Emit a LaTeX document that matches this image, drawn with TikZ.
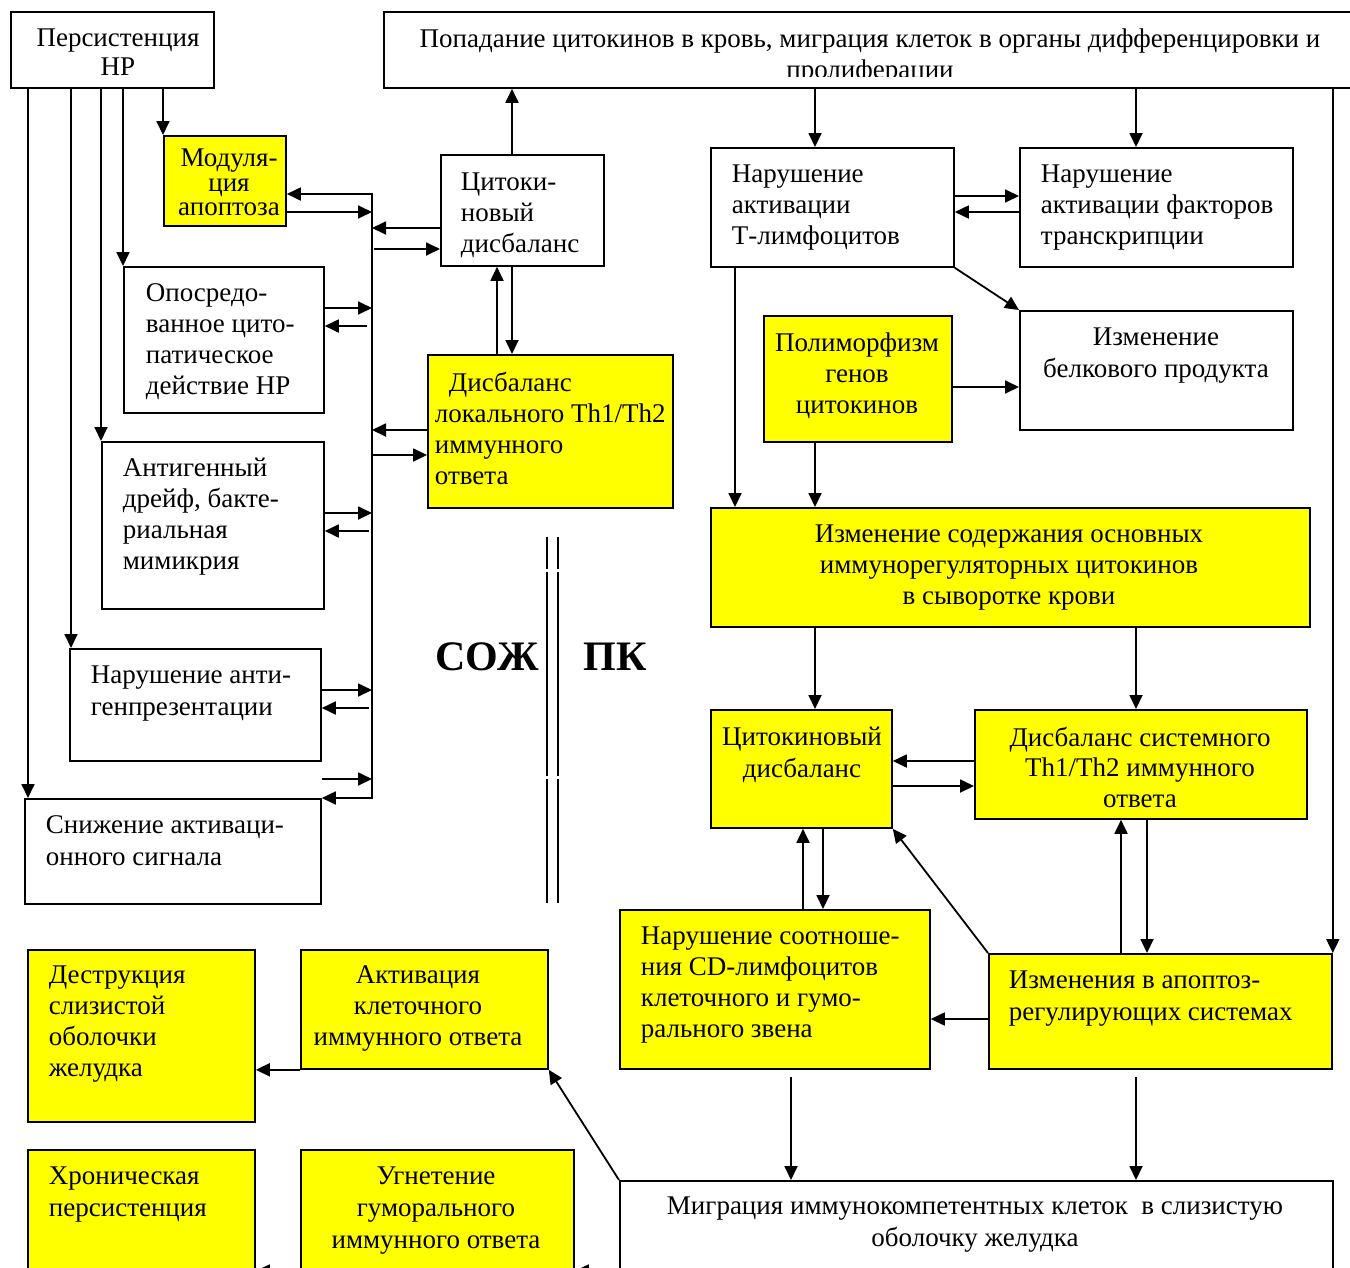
\documentclass[tikz,border=0pt]{standalone}
\usepackage{fontspec}
\setmainfont{Liberation Serif}
\usetikzlibrary{arrows.meta}
\definecolor{yl}{RGB}{255,255,0}
\tikzset{box/.style={draw, line width=1.8pt, inner sep=0pt, anchor=north west},
         ybox/.style={box, fill=yl},
         txt/.style={inner sep=0pt, anchor=north west, align=left},
         ctxt/.style={inner sep=0pt, anchor=north, align=center},
         big/.style={inner sep=0pt, font=\fontsize{42}{48}\selectfont\bfseries}
        }
\begin{document}
\begin{tikzpicture}[x=1pt, y=-1pt, line width=1.8pt,
  >={Triangle[length=14pt,width=13pt]}, font=\fontsize{27}{31}\selectfont]
\useasboundingbox (0,0) rectangle (1350,1267);
\clip (0,0) rectangle (1350,1267);

%Left column
\node[box, minimum width=203pt, minimum height=76pt] (persist) at (10,11) {};
\node[ybox, minimum width=122pt, minimum height=90pt] (modul) at (163,135) {};
\node[box, minimum width=163pt, minimum height=111pt] (cytoL) at (440,154) {};
\node[box, minimum width=200pt, minimum height=146pt] (oposr) at (123,266) {};
\node[ybox, minimum width=245pt, minimum height=153pt] (locTh) at (427,354) {};
\node[box, minimum width=222pt, minimum height=167pt] (antig) at (101,441) {};
\node[box, minimum width=251pt, minimum height=112pt] (antip) at (69,648) {};
\node[box, minimum width=296pt, minimum height=105pt] (snizh) at (24,798) {};

%Right column
\node[box, minimum width=990pt, minimum height=76pt] (top) at (383,11) {};
\node[box, minimum width=243pt, minimum height=119pt] (Tlymph) at (710,147) {};
\node[box, minimum width=273pt, minimum height=119pt] (transcr) at (1019,147) {};
\node[box, minimum width=273pt, minimum height=119pt] (belok) at (1019,310) {};
\node[ybox, minimum width=188pt, minimum height=126pt] (polym) at (763,315) {};
\node[ybox, minimum width=599pt, minimum height=119pt] (serum) at (710,507) {};
\node[ybox, minimum width=181pt, minimum height=118pt] (cytoS) at (710,709) {};
\node[ybox, minimum width=332pt, minimum height=109pt] (sysTh) at (974,709) {};
\node[ybox, minimum width=310pt, minimum height=159pt] (cdlym) at (619,909) {};
\node[ybox, minimum width=343pt, minimum height=115pt] (apopt) at (988,953) {};
\node[box, minimum width=713pt, minimum height=120pt] (migr) at (619,1180) {};

%Bottom
\node[ybox, minimum width=227pt, minimum height=172pt] (destr) at (27,949) {};
\node[ybox, minimum width=247pt, minimum height=119pt] (activ) at (300,949) {};
\node[ybox, minimum width=227pt, minimum height=130pt] (chron) at (27,1149) {};
\node[ybox, minimum width=273pt, minimum height=130pt] (ugnet) at (300,1149) {};

%Texts
\node[ctxt, font=\fontsize{27}{29}\selectfont] (persist-t) at (118,28) {Персистенция\\HP};
\begin{scope}
\clip (383,11) rectangle (1350,76);
\node[ctxt] (top-t) at (870,28) {Попадание цитокинов в кровь, миграция клеток в органы дифференцировки и\\пролиферации};
\end{scope}
\node[ctxt, font=\fontsize{27}{24.5}\selectfont] (modul-t) at (229,148) {Модуля-\\ция\\апоптоза};
\node[txt] (cytoL-t) at (460,172) {Цитоки-\\новый\\дисбаланс};
\node[txt] (oposr-t) at (145,283) {Опосредо-\\ванное цито-\\патическое\\действие HP};
\node[txt] (locTh-t) at (434,371) {\hspace*{14pt}Дисбаланс\\локального Th1/Th2\\иммунного\\ответа};
\node[txt] (antig-t) at (122,457) {Антигенный\\дрейф, бакте-\\риальная\\мимикрия};
\node[txt, font=\fontsize{27}{32}\selectfont] (antip-t) at (90,665) {Нарушение анти-\\генпрезентации};
\node[txt, font=\fontsize{27}{32}\selectfont] (snizh-t) at (45,815) {Снижение активаци-\\онного сигнала};
\node[txt] (Tlymph-t) at (731,164) {Нарушение\\активации\\Т-лимфоцитов};
\node[txt] (transcr-t) at (1040,164) {Нарушение\\активации факторов\\транскрипции};
\node[ctxt, font=\fontsize{27}{32}\selectfont] (belok-t) at (1156,327) {Изменение\\белкового продукта};
\node[ctxt] (polym-t) at (857,332) {Полиморфизм\\генов\\цитокинов};
\node[ctxt] (serum-t) at (1009,524) {Изменение содержания основных\\иммунорегуляторных цитокинов\\в сыворотке крови};
\node[ctxt, font=\fontsize{27}{32}\selectfont] (cytoS-t) at (802,726) {Цитокиновый\\дисбаланс};
\node[ctxt, font=\fontsize{27}{30.5}\selectfont] (sysTh-t) at (1140,726) {Дисбаланс системного\\Th1/Th2 иммунного\\ответа};
\node[txt] (cdlym-t) at (640,926) {Нарушение соотноше-\\ния CD-лимфоцитов\\клеточного и гумо-\\рального звена};
\node[txt, font=\fontsize{27}{32}\selectfont] (apopt-t) at (1008,970) {Изменения в апоптоз-\\регулирующих системах};
\node[ctxt, font=\fontsize{27}{32}\selectfont] (migr-t) at (975,1196) {Миграция иммунокомпетентных клеток\ \ в слизистую\\оболочку желудка};
\node[txt] (destr-t) at (48,965) {Деструкция\\слизистой\\оболочки\\желудка};
\node[ctxt] (activ-t) at (418,965) {Активация\\клеточного\\иммунного ответа};
\node[txt, font=\fontsize{27}{32}\selectfont] (chron-t) at (48,1166) {Хроническая\\персистенция};
\node[ctxt, font=\fontsize{27}{32}\selectfont] (ugnet-t) at (436,1166) {Угнетение\\гуморального\\иммунного ответа};
\node[big] (soz) at (487,657) {СОЖ};
\node[big] (pk) at (615,657) {ПК};

%Divider
\draw (547,537) -- (547,569) (547,572) -- (547,776) (547,779) -- (547,903);
\draw (558,537) -- (558,569) (558,572) -- (558,776) (558,779) -- (558,903);

%From persistence
\draw[->] ([xshift=4pt]snizh.north west |- persist.south) -- ([xshift=4pt]snizh.north west);
\draw[->] ([xshift=2pt]antip.north west |- persist.south) -- ([xshift=2pt]antip.north west);
\draw[->] (antig.north west |- persist.south) -- (antig.north west);
\draw[->] (oposr.north west |- persist.south) -- (oposr.north west);
\draw[->] (modul.north west |- persist.south) -- (modul.north west);

%Bus
\coordinate (busT) at (372,194);
\coordinate (busB) at (372,798);
\draw[<->] (modul.east |- busT) -- (busT) -- (busB) -- (snizh.north east);
\draw[->] (modul.east |- 0,212) -- (busT |- 0,212);
\draw[->] (cytoL.west |- 0,228) -- (busT |- 0,228);
\draw[->, shorten <=2pt] (busT |- 0,249) -- (cytoL.west |- 0,249);
\draw[->] (oposr.east |- 0,308) -- (busT |- 0,308);
\draw[->, shorten <=5pt] (busT |- 0,326) -- (oposr.east |- 0,326);
\draw[->] (locTh.west |- 0,430) -- (busT |- 0,430);
\draw[->] (busT |- 0,455) -- (locTh.west |- 0,455);
\draw[->] (antig.east |- 0,513) -- (busT |- 0,513);
\draw[->, shorten <=3pt] (busT |- 0,531) -- (antig.east |- 0,531);
\draw[->] (antip.east |- 0,690) -- (busT |- 0,690);
\draw[->, shorten <=3pt] (busT |- 0,708) -- (antip.east |- 0,708);
\draw[->] (snizh.east |- 0,779) -- (busT |- 0,779);

%Local cytokines
\draw[->] (512,0 |- cytoL.north) -- (512,0 |- top.south);
\draw[->] (497,0 |- locTh.north) -- (497,0 |- cytoL.south);
\draw[->] (512,0 |- cytoL.south) -- (512,0 |- locTh.north);

%Systemic part
\draw[->] (815,0 |- top.south) -- (815,0 |- Tlymph.north);
\draw[->] (1136,0 |- top.south) -- (1136,0 |- transcr.north);
\draw[->] (apopt.north east |- top.south) -- (apopt.north east);
\draw[->] (Tlymph.east |- 0,196) -- (transcr.west |- 0,196);
\draw[->] (transcr.west |- 0,212) -- (Tlymph.east |- 0,212);
\draw[->] (Tlymph.south east) -- (belok.north west);
\draw[->] (polym.east |- 0,387) -- (belok.west |- 0,387);
\draw[->] (735,0 |- Tlymph.south) -- (735,0 |- serum.north);
\draw[->] (815,0 |- polym.south) -- (815,0 |- serum.north);
\draw[->] (815,0 |- serum.south) -- (815,0 |- cytoS.north);
\draw[->] (1136,0 |- serum.south) -- (1136,0 |- sysTh.north);
\draw[->] (sysTh.west |- 0,761) -- (cytoS.east |- 0,761);
\draw[->] (cytoS.east |- 0,786) -- (sysTh.west |- 0,786);
\draw[->] (803,0 |- cdlym.north) -- (803,0 |- cytoS.south);
\draw[->] (823,0 |- cytoS.south) -- (823,0 |- cdlym.north);
\draw[->] (apopt.north west) -- (cytoS.south east);
\draw[->] (1121,0 |- apopt.north) -- (1121,0 |- sysTh.south);
\draw[->] (1147,0 |- sysTh.south) -- (1147,0 |- apopt.north);
\draw[->] (apopt.west |- 0,1019) -- (cdlym.east |- 0,1019);
\draw[->, shorten <=7pt] (791,0 |- cdlym.south) -- (791,0 |- migr.north);
\draw[->, shorten <=7pt] (1136,0 |- apopt.south) -- (1136,0 |- migr.north);

%Mucosa outcomes
\draw[->] (migr.north west) -- (activ.south east);
\draw[->] (activ.south west) -- (destr.east |- activ.south west);
\draw[->] (ugnet.west |- 0,1271) -- (chron.east |- 0,1271);
\draw[->] (migr.west |- 0,1271) -- (ugnet.east |- 0,1271);
\end{tikzpicture}
\end{document}
